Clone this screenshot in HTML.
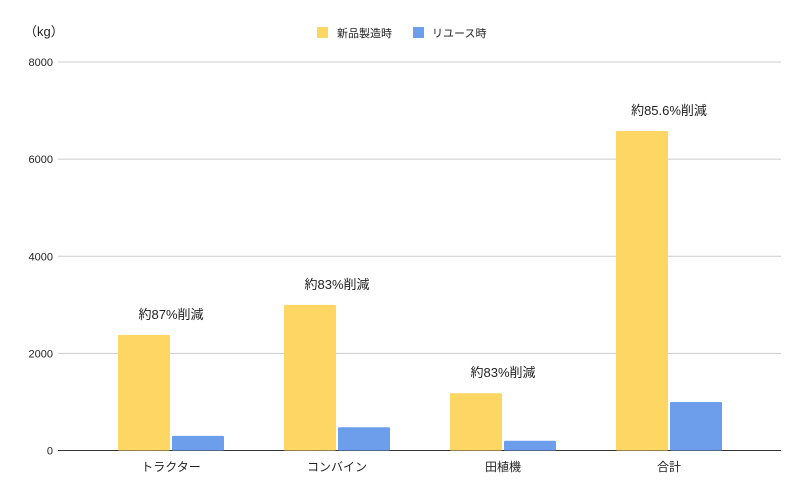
<!DOCTYPE html>
<html><head><meta charset="utf-8"><style>
html,body{margin:0;padding:0;background:#fff;}
svg{display:block;font-family:"Liberation Sans","Noto Sans CJK JP",sans-serif;}
</style></head><body>
<svg id="chart" width="806" height="499" viewBox="0 0 806 499">
<text x="24" y="36" font-size="13" fill="#222">（kg）</text>
<g>
<rect x="317" y="27" width="11" height="11" fill="#fdd663"/>
<text x="337" y="37" font-size="11" fill="#222">新品製造時</text>
<rect x="413" y="27" width="11" height="11" fill="#6d9eeb"/>
<text x="432" y="37" font-size="11" fill="#222">リユース時</text>
</g>
<g id="grid"></g><g id="bars"></g><g id="labels"></g>
</svg>
<script>
const categories = ["トラクター","コンバイン","田植機","合計"];
const newValues = [2380, 3000, 1180, 6580];
const reuseValues = [300, 480, 200, 1000];
const annotations = ["約87%削減","約83%削減","約83%削減","約85.6%削減"];
const yTicks = [0, 2000, 4000, 6000, 8000];

const NS="http://www.w3.org/2000/svg";
const y0=450.5, yTop=62, yMax=8000, left=58, right=781, bandStart=88, band=166;
const y=v=>y0-(v/yMax)*(y0-yTop);
const cx=i=>bandStart+band*i+band/2;
function mk(tag,attrs,parent,text){const e=document.createElementNS(NS,tag);for(const k in attrs)e.setAttribute(k,attrs[k]);if(text!==undefined)e.textContent=text;parent.appendChild(e);return e;}
const grid=document.getElementById('grid'),bars=document.getElementById('bars'),labels=document.getElementById('labels');
yTicks.forEach(t=>{
  const l=mk('line',{x1:left,x2:right,y1:y(t),y2:y(t),stroke:t===0?'#333':'#ccc','stroke-width':1},grid);
  
  
  const tx=mk('text',{x:53,y:y(t)+4,'font-size':11,fill:'#222','text-anchor':'end'},grid,String(t));
  
  
});
categories.forEach((c,i)=>{
  const c0=cx(i);
  const b1=mk('rect',{x:c0-53,y:y(newValues[i]),width:52,height:y0-y(newValues[i]),fill:'#fdd663',rx:1},bars);
  
  
  const b2=mk('rect',{x:c0+1,y:y(reuseValues[i]),width:52,height:y0-y(reuseValues[i]),fill:'#6d9eeb',rx:1},bars);
  
  
  const xl=mk('text',{x:c0,y:471,'font-size':12,fill:'#222','text-anchor':'middle'},labels,c);
  
  
  const an=mk('text',{x:c0,y:y(newValues[i])-16,'font-size':13,fill:'#222','text-anchor':'middle'},labels,annotations[i]);
  
  
});
</script>
</body></html>
